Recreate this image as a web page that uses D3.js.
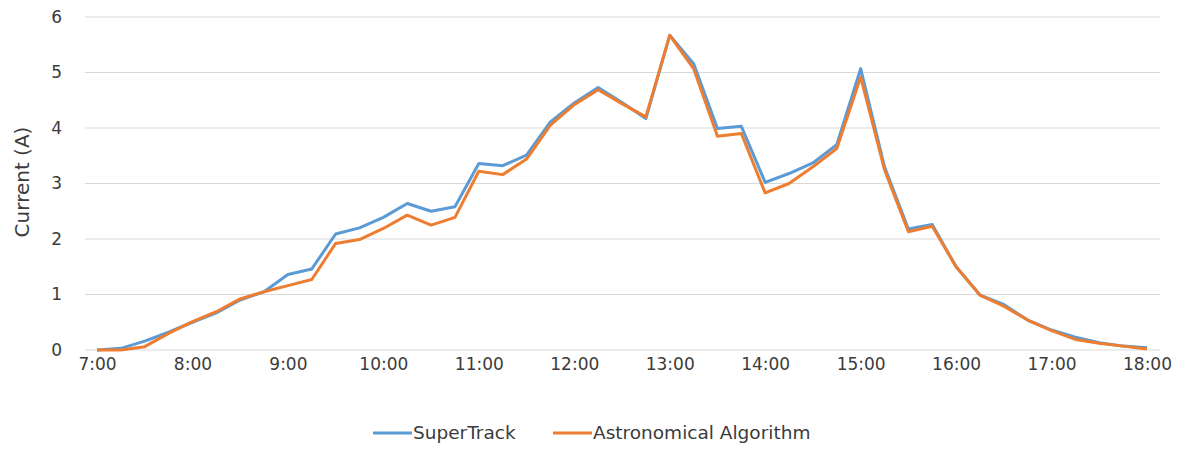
<!DOCTYPE html>
<html>
<head>
<meta charset="utf-8">
<script src="https://cdn.jsdelivr.net/npm/d3@7"></script>
<style>
  body { margin: 0; background: #fff; }
  text { font-family: "DejaVu Sans", sans-serif; fill: #3b3b3b; }
</style>
</head>
<body>
<svg id="main"></svg>
<script>
//--------data----------
const times = ['7:00','7:15','7:30','7:45','8:00','8:15','8:30','8:45',
  '9:00','9:15','9:30','9:45','10:00','10:15','10:30','10:45',
  '11:00','11:15','11:30','11:45','12:00','12:15','12:30','12:45',
  '13:00','13:15','13:30','13:45','14:00','14:15','14:30','14:45',
  '15:00','15:15','15:30','15:45','16:00','16:15','16:30','16:45',
  '17:00','17:15','17:30','17:45','18:00'];
const tickLabels = ['7:00','8:00','9:00','10:00','11:00','12:00','13:00','14:00','15:00','16:00','17:00','18:00'];

const superTrack = [0.00,0.03,0.16,0.32,0.50,0.67,0.90,1.05,
  1.36,1.46,2.09,2.20,2.39,2.64,2.50,2.58,
  3.36,3.32,3.51,4.11,4.45,4.73,4.46,4.17,
  5.67,5.16,3.99,4.03,3.02,3.18,3.37,3.70,
  5.07,3.30,2.18,2.26,1.50,0.99,0.82,0.54,
  0.36,0.23,0.13,0.07,0.04];
const astronomical = [0.00,0.00,0.06,0.30,0.51,0.69,0.92,1.05,
  1.16,1.27,1.92,1.99,2.19,2.43,2.25,2.39,
  3.22,3.16,3.44,4.05,4.42,4.69,4.44,4.20,
  5.67,5.07,3.85,3.90,2.83,3.00,3.30,3.63,
  4.92,3.25,2.13,2.23,1.50,0.99,0.79,0.54,
  0.35,0.19,0.12,0.07,0.02];
const yTicks = [0,1,2,3,4,5,6];

const series = [
  {name: 'SuperTrack', values: superTrack, color: '#5B9BD5'},
  {name: 'Astronomical Algorithm', values: astronomical, color: '#ED7D31'}
];

// //--------code----------
let width = 1186;
let height = 449;
let svg = d3.select('#main')
  .attr('width', width)
  .attr('height', height);

let gridLeft = 85, gridRight = 1160;
let sx = d3.scalePoint().domain(times).range([97, 1147]);
let sy = d3.scaleLinear().domain([0, 6]).range([350, 17]);

//gridlines
svg.selectAll('.grid')
  .data(yTicks)
  .join('line')
  .attr('class', 'grid')
  .attr('x1', gridLeft)
  .attr('x2', gridRight)
  .attr('y1', d=>sy(d))
  .attr('y2', d=>sy(d))
  .attr('stroke', '#d9d9d9')
  .attr('stroke-width', 1.2);

//axes
let ay = d3.axisLeft(sy).tickValues(yTicks).tickSize(0).tickPadding(0).tickFormat(d3.format('d'));
let gy = svg.append('g')
  .attr('transform', 'translate(62,0)')
  .call(ay);
gy.select('.domain').remove();
gy.selectAll('text').style('font-size', '17px').attr('fill', '#3b3b3b');

let ax = d3.axisBottom(sx).tickValues(tickLabels).tickSize(0).tickPadding(0);
let gx = svg.append('g')
  .attr('transform', 'translate(0,350)')
  .call(ax);
gx.select('.domain').remove();
gx.selectAll('text').attr('dy', '1.15em').style('font-size', '17px').attr('fill', '#3b3b3b');

svg.append('text')
  .attr('transform', 'translate(29,182) rotate(-90)')
  .attr('text-anchor', 'middle')
  .style('font-size', '20px')
  .text('Current (A)');

//lines
let line = d3.line()
  .x((d,i)=>sx(times[i]))
  .y(d=>sy(d));

svg.selectAll('.series')
  .data(series)
  .join('path')
  .attr('class', 'series')
  .attr('fill', 'none')
  .attr('stroke', d=>d.color)
  .attr('stroke-width', 3)
  .attr('stroke-linejoin', 'round')
  .attr('d', d=>line(d.values));

//legend
let legendX = [373, 553];
let lg = svg.selectAll('.legend')
  .data(series)
  .join('g')
  .attr('class', 'legend')
  .attr('transform', (d,i)=>`translate(${legendX[i]},433)`);
lg.append('line')
  .attr('x1', 0).attr('x2', 39)
  .attr('stroke', d=>d.color)
  .attr('stroke-width', 3);
lg.append('text')
  .attr('x', 40)
  .attr('dy', '0.35em')
  .style('font-size', '18.5px')
  .text(d=>d.name);
</script>
</body>
</html>
